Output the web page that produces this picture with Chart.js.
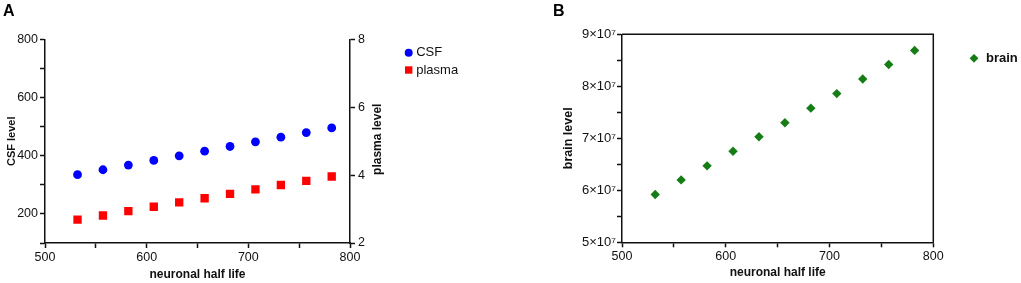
<!DOCTYPE html>
<html>
<head>
<meta charset="utf-8">
<script src="https://cdn.jsdelivr.net/npm/chart.js@4.4.1/dist/chart.umd.min.js"></script>
<style>
  html, body { margin: 0; padding: 0; background: #fff; }
  .panel { position: absolute; top: 0; height: 283px; }
  #panelA { left: 0; width: 540px; }
  #panelB { left: 540px; width: 481px; }
</style>
</head>
<body>
<div class="panel" id="panelA"><canvas id="chartA"></canvas></div>
<div class="panel" id="panelB"><canvas id="chartB"></canvas></div>
<script>
// values
const halfLife = [532, 557, 582, 607, 632, 657, 682, 707, 732, 757, 782];
const csfLevel = [335, 352, 368, 384, 400, 416, 432, 448, 464, 480, 496];
const plasmaLevel = [2.69, 2.81, 2.94, 3.07, 3.2, 3.32, 3.45, 3.58, 3.71, 3.83, 3.96];
const brainLevel = [5.92e7, 6.2e7, 6.47e7, 6.75e7, 7.03e7, 7.3e7, 7.58e7, 7.86e7, 8.14e7, 8.42e7, 8.69e7];

// labelled ticks
const xTickLabels = [500, 600, 700, 800];
const csfTickLabels = [200, 400, 600, 800];
const plasmaTickLabels = [2, 4, 6, 8];
const brainTickLabels = [5e7, 6e7, 7e7, 8e7, 9e7];

const ink = '#111';
Chart.defaults.font.family = "'Liberation Sans', Arial, sans-serif";
Chart.defaults.color = ink;

const toPoints = (xs, ys) => xs.map((x, i) => ({ x: x, y: ys[i] }));

// a linear axis with outward ticks, only some of them labelled
function axis(min, max, step, labels, fmt, size) {
  return {
    type: 'linear',
    min: min,
    max: max,
    border: { color: ink, width: 1.5 },
    grid: { drawOnChartArea: false, color: ink, tickColor: ink, tickLength: 5, tickWidth: 1.5 },
    ticks: {
      stepSize: step,
      autoSkip: false,
      maxRotation: 0,
      padding: 2,
      color: ink,
      font: { size: size || 12.5 },
      callback: v => labels.includes(v) ? fmt(v) : ''
    }
  };
}

function drawMark(ctx, style, x, y, r) {
  ctx.beginPath();
  if (style === 'rect') {
    ctx.rect(x - r, y - r, 2 * r, 2 * r);
  } else if (style === 'rectRot') {
    ctx.moveTo(x, y - r); ctx.lineTo(x + r, y); ctx.lineTo(x, y + r); ctx.lineTo(x - r, y);
    ctx.closePath();
  } else {
    ctx.arc(x, y, r, 0, Math.PI * 2);
  }
  ctx.fill();
}

// legend placed to the right of the plot, like the original figure
const sideLegend = {
  id: 'sideLegend',
  afterDraw(chart, args, opts) {
    const ctx = chart.ctx;
    ctx.save();
    chart.data.datasets.forEach((ds, i) => {
      const y = opts.y + i * opts.gap;
      ctx.fillStyle = ds.backgroundColor;
      drawMark(ctx, ds.pointStyle, opts.x, y, opts.sizes[i]);
      ctx.fillStyle = ink;
      ctx.font = opts.font;
      ctx.textAlign = 'left';
      ctx.textBaseline = 'middle';
      ctx.fillText(ds.label, opts.x + opts.textOffset, y);
    });
    ctx.restore();
  }
};

// right axis title reads bottom-to-top
const rightTitle = {
  id: 'rightTitle',
  afterDraw(chart, args, opts) {
    const s = chart.scales[opts.scale];
    const ctx = chart.ctx;
    ctx.save();
    ctx.translate(s.left + opts.offset, (s.top + s.bottom) / 2 - 2);
    ctx.rotate(-Math.PI / 2);
    ctx.font = opts.font;
    ctx.fillStyle = ink;
    ctx.textAlign = 'center';
    ctx.textBaseline = 'middle';
    ctx.fillText(opts.text, 0, 0);
    ctx.restore();
  }
};

// closed box for panel B
const frame = {
  id: 'frame',
  afterDraw(chart) {
    const a = chart.chartArea;
    const ctx = chart.ctx;
    ctx.save();
    ctx.strokeStyle = ink;
    ctx.lineWidth = 1.5;
    ctx.beginPath();
    ctx.moveTo(a.left, a.top);
    ctx.lineTo(a.right, a.top);
    ctx.lineTo(a.right, a.bottom);
    ctx.stroke();
    ctx.restore();
  }
};

// Panel A
const xA = axis(500, 800, 50, xTickLabels, v => v);
xA.title = { display: true, text: 'neuronal half life', font: { size: 12, weight: 'bold' }, color: ink, padding: { top: 0, bottom: 1.3 } };
xA.afterFit = s => { s.height = 40; };

const yA = axis(100, 800, 100, csfTickLabels, v => v);
yA.position = 'left';
yA.title = { display: true, text: 'CSF level', font: { size: 11, weight: 'bold' }, color: ink, padding: { top: 2, bottom: 0 } };
yA.afterFit = s => { s.width = 42; };

const y2A = axis(2, 8, 2, plasmaTickLabels, v => v);
y2A.position = 'right';
y2A.ticks.padding = 3;
y2A.afterFit = s => { s.width = 40; };

const chartA = new Chart(document.getElementById('chartA'), {
  type: 'scatter',
  data: {
    datasets: [
      {
        label: 'CSF',
        data: toPoints(halfLife, csfLevel),
        yAxisID: 'y',
        pointStyle: 'circle',
        pointRadius: 4.4,
        pointBorderWidth: 0,
        backgroundColor: '#0000ff',
        borderColor: '#0000ff'
      },
      {
        label: 'plasma',
        data: toPoints(halfLife, plasmaLevel),
        yAxisID: 'y2',
        pointStyle: 'rect',
        pointRadius: 5.9,
        pointBorderWidth: 0,
        backgroundColor: '#ff0000',
        borderColor: '#ff0000'
      }
    ]
  },
  options: {
    responsive: true,
    maintainAspectRatio: false,
    animation: false,
    layout: { padding: { left: 3, right: 150, top: 0, bottom: 0 } },
    scales: { x: xA, y: yA, y2: y2A },
    plugins: {
      legend: { display: false },
      tooltip: { enabled: false },
      title: { display: true, text: 'A', align: 'start', color: '#000', font: { size: 16, weight: 'bold' }, padding: { top: 2, bottom: 18.3 } },
      sideLegend: { x: 408.7, y: 52.7, gap: 17.3, sizes: [4, 3.7], textOffset: 7.5, font: "13px 'Liberation Sans', Arial, sans-serif" },
      rightTitle: { scale: 'y2', offset: 28, text: 'plasma level', font: "bold 12px 'Liberation Sans', Arial, sans-serif" }
    }
  },
  plugins: [sideLegend, rightTitle]
});

// Panel B
const xB = axis(500, 800, 50, xTickLabels, v => v);
xB.title = { display: true, text: 'neuronal half life', font: { size: 12, weight: 'bold' }, color: ink, padding: { top: 0, bottom: 3 } };
xB.afterFit = s => { s.height = 40.7; };

const yB = axis(5e7, 9e7, 0.5e7, brainTickLabels, v => (v / 1e7) + '×10\u2077', 13);
yB.ticks.padding = 1;
yB.title = { display: true, text: 'brain level', font: { size: 12.5, weight: 'bold' }, color: ink, padding: { top: 7.8, bottom: 0 } };
yB.afterFit = s => { s.width = 69; };

const chartB = new Chart(document.getElementById('chartB'), {
  type: 'scatter',
  data: {
    datasets: [
      {
        label: 'brain',
        data: toPoints(halfLife, brainLevel),
        pointStyle: 'rectRot',
        pointRadius: 4.7,
        pointBorderWidth: 0,
        backgroundColor: '#167d16',
        borderColor: '#167d16'
      }
    ]
  },
  options: {
    responsive: true,
    maintainAspectRatio: false,
    animation: false,
    layout: { padding: { left: 13, right: 87.7, top: 0, bottom: 0 } },
    scales: { x: xB, y: yB },
    plugins: {
      legend: { display: false },
      tooltip: { enabled: false },
      title: { display: true, text: 'B', align: 'start', color: '#000', font: { size: 16, weight: 'bold' }, padding: { top: 2, bottom: 13.1 } },
      sideLegend: { x: 434, y: 58.3, gap: 17, sizes: [4.4], textOffset: 12, font: "bold 13px 'Liberation Sans', Arial, sans-serif" }
    }
  },
  plugins: [sideLegend, frame]
});
</script>
</body>
</html>
